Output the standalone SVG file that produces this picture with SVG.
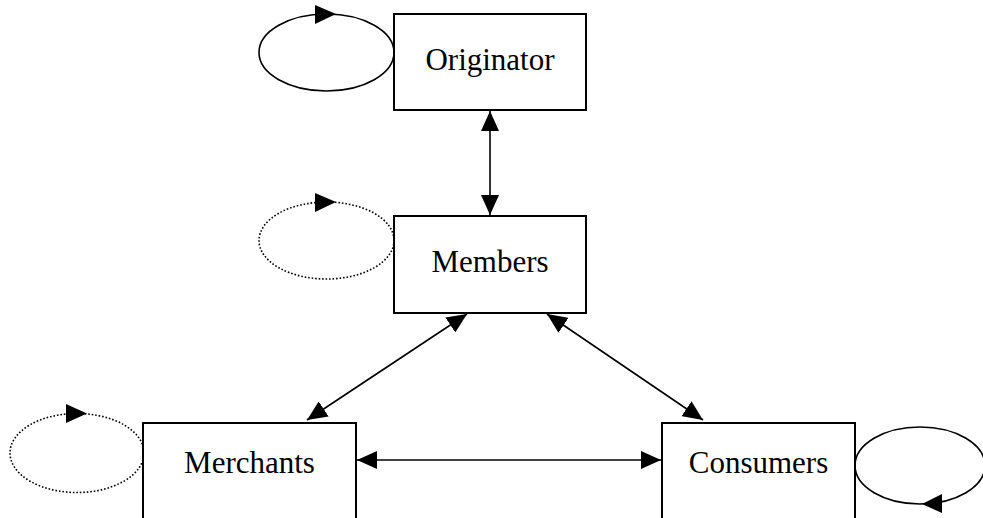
<svg xmlns="http://www.w3.org/2000/svg" width="983" height="518" viewBox="0 0 983 518">
<style>
.box{fill:#fff;stroke:#000;stroke-width:2}
.lbl{font-family:"Liberation Serif","Times New Roman",serif;font-size:31px;fill:#000;text-anchor:middle}
.conn{stroke:#000;stroke-width:1.6;fill:none;marker-start:url(#ah);marker-end:url(#ah)}
.loop{fill:none;stroke:#000;stroke-width:1.6}
.dot{stroke-dasharray:1.6 1.9;stroke-width:1.6}
.head{fill:#000}
</style>
<defs>
<marker id="ah" viewBox="0 0 20 18" refX="20" refY="9" markerWidth="20" markerHeight="18" markerUnits="userSpaceOnUse" orient="auto-start-reverse">
<path d="M0,0 L20,9 L0,18 Z" fill="#000"/>
</marker>
</defs>
<g id="connectors">
<line class="conn" x1="490" y1="111" x2="490" y2="215"/>
<line class="conn" x1="467" y1="314" x2="307" y2="420"/>
<line class="conn" x1="547" y1="314" x2="703" y2="420"/>
<line class="conn" x1="357" y1="460" x2="661" y2="460"/>
</g>
<g id="originator">
<ellipse class="loop" cx="326.5" cy="52.5" rx="67.5" ry="38.5"/>
<path class="head" d="M315,5 L336,14 L315,24 Z"/>
<rect class="box" x="394" y="14" width="192" height="96"/>
<text class="lbl" x="490" y="70">Originator</text>
</g>
<g id="members">
<ellipse class="loop dot" cx="326.5" cy="240.5" rx="67.5" ry="38.5"/>
<path class="head" d="M315,193 L336,202 L315,212 Z"/>
<rect class="box" x="394" y="216" width="192" height="97"/>
<text class="lbl" x="490" y="272">Members</text>
</g>
<g id="merchants">
<ellipse class="loop dot" cx="77" cy="453" rx="67" ry="39.5"/>
<path class="head" d="M66,404 L87,413.5 L66,423 Z"/>
<rect class="box" x="143" y="423" width="213" height="120"/>
<text class="lbl" x="249.5" y="473">Merchants</text>
</g>
<g id="consumers">
<ellipse class="loop" cx="920" cy="465.5" rx="65" ry="38.5"/>
<path class="head" d="M942,494 L922,504 L942,513 Z"/>
<rect class="box" x="662" y="423" width="193" height="120"/>
<text class="lbl" x="758.5" y="473">Consumers</text>
</g>
</svg>
